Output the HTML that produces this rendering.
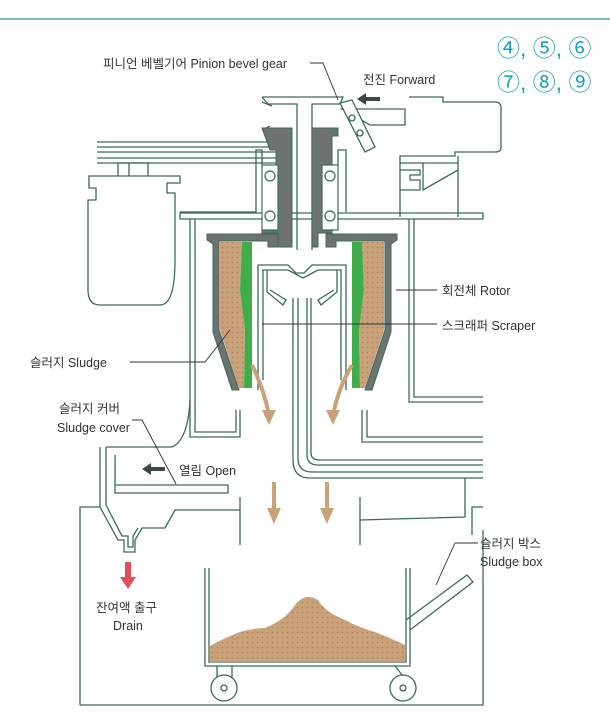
<!DOCTYPE html>
<html><head><meta charset="utf-8"><style>
html,body{margin:0;padding:0;background:#fff;}
svg{display:block}
text{font-family:"Liberation Sans","Noto Sans CJK KR",sans-serif;fill:#333;font-size:12.5px}
</style></head><body>
<svg width="610" height="724" viewBox="0 0 610 724" xmlns="http://www.w3.org/2000/svg">
<defs>
<pattern id="dots" width="5" height="5" patternUnits="userSpaceOnUse">
<rect width="5" height="5" fill="#c9a27a"/><circle cx="2.5" cy="2.5" r="0.8" fill="#a87f58"/>
</pattern>
</defs>
<line x1="0" y1="19" x2="610" y2="19" stroke="#5aa3a8" stroke-width="1.5"/>
<text x="497" y="56" style="fill:#1aa0c0;font-size:23px">④, ⑤, ⑥</text>
<text x="497" y="90" style="fill:#1aa0c0;font-size:23px">⑦, ⑧, ⑨</text>
<g fill="none" stroke="#3a6a5e" stroke-width="1.3">
<path d="M108 176 H180 V183 H167 V193 H175 V260 Q175 305 160 305 H100 Q88 305 88 290 V200 H96 V188 H89 V176 Z" fill="#fff"/>
<path d="M118 176 V163 H148 V176 M129 163 V176"/>
<path d="M97 142 H278 M97 147 H278 M97 152 H278 M97 158 H278 M97 163 H278"/>
<path d="M262 97 H343 L340 104 H312 V250 M297 250 V104 H268 L262 97"/>
<path d="M262 102 L272 106 M262 130 L270 126"/>
<path d="M180 213 H483 V219 H180 Z"/>
<path d="M190 219 V437 H240 V410 M195 219 V432 H236 V410"/>
<path d="M409 219 V402 H483 M414 219 V397 H483"/>
<path d="M367 410 V437 H483 M362 410 V442 H483"/>
<path d="M409 97 H443 V102 H495 Q501 102 501 108 V148 Q501 152 495 152 H455 V156 H400 V217 M458 156 V217 M400 163 H458 M423 163 V190 L458 170"/>
<path d="M400 170 H420 V175 H410 V180 H420 V190 H400"/>
<path d="M342 109 H405 V125 H370 Z"/>
<path d="M340 103 L352 100 L375 147 L365 152 Z" fill="#fff"/>
<circle cx="352" cy="118" r="3"/><circle cx="360" cy="133" r="3"/>
<path d="M262 165 V150 H256 V212 H180 M338 165 V150 H346 V212"/>
<path d="M258 390 V265 H288 L296 273 H304 L312 265 H346 V390"/>
<path d="M263 380 V270 H288 L303 278 L318 270 H341 V380" />
<path d="M267 270 V292 L283 305 L286 300 L270 290 M337 270 V292 L321 305 L318 300 L334 290"/>
<path d="M293 298 V460 Q293 478 310 478 H483 M298 298 V458 Q298 472 312 472 H483"/>
<path d="M307 298 V455 Q307 465 318 465 H483 M311 298 V453 Q311 460 320 460 H483"/>
<path d="M80 705 H483 V530 M80 705 V507 H100 M483 507 H472 V535 M465 478 V517 L360 520 M360 497 V545"/>
<path d="M240 497 V545 M240 510 H175 L165 528 M100 447 V507 L118 540 H124 V552 H135 V540 L142 528 H165"/>
<path d="M106 447 V505 L122 536 H128 V547 H133 V536 L138 528"/>
<path d="M106 447 H172 Q188 440 190 400 M115 455 V493 H228 V485 H115"/>
<path d="M205 568 V666 H410 V568 M209 568 V662 H406 V568"/>
<path d="M406 620 L467 575 L473 582 L410 630"/>
<path d="M217 666 V684 M232 666 V680 M395 666 L410 685"/>
<circle cx="224" cy="688" r="13" fill="#fff"/><circle cx="224" cy="688" r="3"/>
<circle cx="403" cy="688" r="13" fill="#fff"/><circle cx="403" cy="688" r="3"/>
</g>
<g fill="#6e7370" stroke="#3a6a5e" stroke-width="1">
<path d="M262 128 H292 V247 H278 V233 H262 V210 H276 V150 H270 Z"/>
<path d="M312 128 H338 V136 H332 V233 H318 V247 H312 Z"/>
<path d="M207 234 H278 V247 H268 V241 H219 V330 L239 390 H232 L213 332 V244 L207 240 Z"/>
<path d="M397 234 H326 V247 H336 V241 H385 V330 L365 390 H372 L391 332 V244 L397 240 Z"/>
</g>
<g fill="#fff" stroke="#3a6a5e" stroke-width="1.2">
<rect x="262" y="165" width="16" height="65"/>
<rect x="322" y="165" width="16" height="65"/>
<circle cx="270" cy="176" r="5"/><circle cx="270" cy="216" r="5"/>
<circle cx="330" cy="176" r="5"/><circle cx="330" cy="216" r="5"/>
</g>
<path d="M220 242 H242 L240 290 L245 330 L244 388 H239 L220 330 Z" fill="url(#dots)"/>
<path d="M242 242 H252 V388 H244 L245 330 L240 290 Z" fill="#3fae4a"/>
<path d="M384 242 H362 L364 290 L359 330 L360 388 H365 L384 330 Z" fill="url(#dots)"/>
<path d="M362 242 H352 V388 H360 L359 330 L364 290 Z" fill="#3fae4a"/>
<path d="M210 662 V646 Q220 640 240 632 Q255 628 265 628 Q285 620 295 605 Q305 592 318 600 Q325 612 345 620 Q360 628 375 632 Q395 640 405 645 V662 Z" fill="url(#dots)"/>
<g stroke="#c9a27a" stroke-width="4" fill="#c9a27a">
<path d="M252 365 Q262 385 268 410" fill="none"/><path d="M262 410 H276 L269 425 Z" stroke="none"/>
<path d="M352 365 Q340 385 334 410" fill="none"/><path d="M326 410 H340 L333 425 Z" stroke="none"/>
<line x1="274" y1="482" x2="274" y2="510"/><path d="M267 508 H281 L274 524 Z" stroke="none"/>
<line x1="327" y1="482" x2="327" y2="510"/><path d="M320 508 H334 L327 524 Z" stroke="none"/>
</g>
<path d="M125 562 h6 v15 h5 l-8 12 l-8 -12 h5 z" fill="#e0505a"/>
<path d="M380 97 h-14 v-4 l-9 6 l9 6 v-4 h14 z" fill="#3d4a44"/>
<path d="M165 467 h-14 v-4 l-9 6 l9 6 v-4 h14 z" fill="#3d4a44"/>
<g stroke="#333" stroke-width="0.9" fill="none">
<path d="M310 63 H323 L338 100"/>
<path d="M437 290 H396"/>
<path d="M437 324 H262"/>
<path d="M130 362 H205 L230 330"/>
<path d="M132 420 H142 L176 484"/>
<path d="M478 543 H455 L436 585"/>
</g>
<text x="103" y="68">피니언 베벨기어 Pinion bevel gear</text>
<text x="363" y="84">전진 Forward</text>
<text x="442" y="295">회전체 Rotor</text>
<text x="442" y="330">스크래퍼 Scraper</text>
<text x="30" y="367">슬러지 Sludge</text>
<text x="59" y="413">슬러지 커버</text>
<text x="57" y="432">Sludge cover</text>
<text x="179" y="475">열림 Open</text>
<text x="96" y="612">잔여액 출구</text>
<text x="113" y="630">Drain</text>
<text x="480" y="548">슬러지 박스</text>
<text x="480" y="566">Sludge box</text>
</svg>
</body></html>
